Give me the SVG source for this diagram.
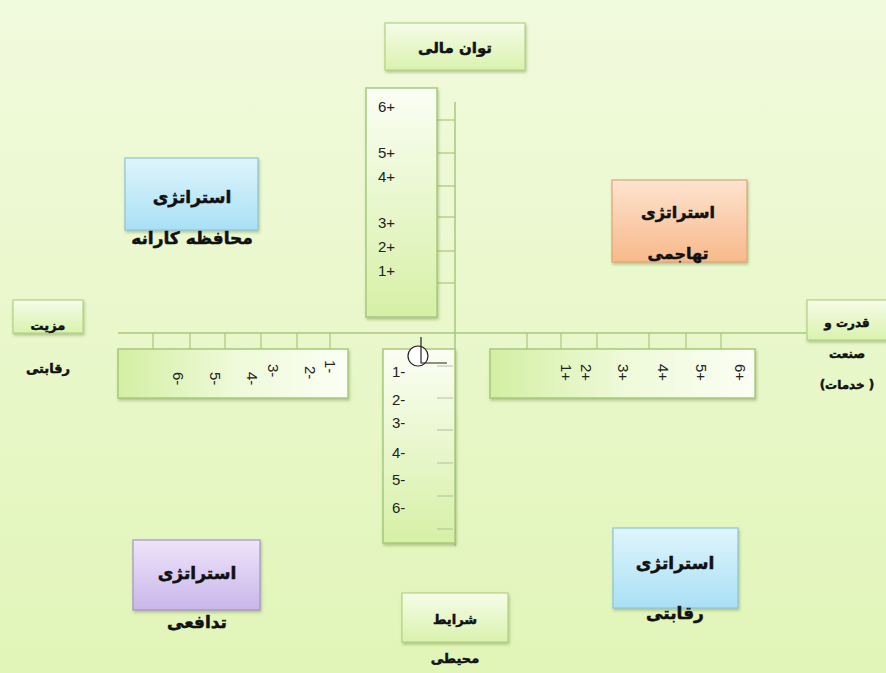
<svg xmlns="http://www.w3.org/2000/svg" width="886" height="673" viewBox="0 0 886 673">
<defs>
<linearGradient id="bg" x1="0" y1="0" x2="0" y2="1">
<stop offset="0" stop-color="#f1fadd"/><stop offset="1" stop-color="#e1f5b8"/>
</linearGradient>
<linearGradient id="gnode" x1="0" y1="0" x2="0" y2="1">
<stop offset="0" stop-color="#f6fce9"/><stop offset="1" stop-color="#d9f2ad"/>
</linearGradient>
<linearGradient id="gvert" x1="0" y1="0" x2="0" y2="1">
<stop offset="0" stop-color="#fbfef4"/><stop offset="1" stop-color="#d6f0a6"/>
</linearGradient>
<linearGradient id="ghorz" x1="0" y1="0" x2="1" y2="0">
<stop offset="0" stop-color="#d3efa3"/><stop offset="0.5" stop-color="#eefad8"/><stop offset="1" stop-color="#fbfef4"/>
</linearGradient>
<linearGradient id="gblue" x1="0" y1="0" x2="0" y2="1">
<stop offset="0" stop-color="#dff5fc"/><stop offset="1" stop-color="#a9e0f5"/>
</linearGradient>
<linearGradient id="gorange" x1="0" y1="0" x2="0" y2="1">
<stop offset="0" stop-color="#fde3cf"/><stop offset="1" stop-color="#f8b98a"/>
</linearGradient>
<linearGradient id="gpurple" x1="0" y1="0" x2="0" y2="1">
<stop offset="0" stop-color="#eee4fa"/><stop offset="1" stop-color="#c9b6ea"/>
</linearGradient>
<filter id="sh" x="-10%" y="-10%" width="120%" height="130%">
<feDropShadow dx="1" dy="2" stdDeviation="1.5" flood-color="#6a8a40" flood-opacity="0.45"/>
</filter>
</defs>
<style>
.fa{font-family:"DejaVu Sans",sans-serif;font-weight:bold;fill:#111;stroke:#111;stroke-width:0.5;text-anchor:middle;direction:rtl}
.num{font-family:"Liberation Sans",Arial,sans-serif;font-size:15px;fill:#222}
.ax{stroke:#a9c97c;stroke-width:1.5;fill:none}
.tk{stroke:#a9c97c;stroke-width:1.2;fill:none}
.nb{fill:url(#gnode);stroke:#b3d383;stroke-width:1.2}
.scale{stroke:#a9c97c;stroke-width:1.5}
</style>
<rect width="886" height="673" fill="url(#bg)"/>

<g id="connectors">
<line class="ax" x1="455" y1="102" x2="455" y2="546"/>
<line class="ax" x1="118" y1="333" x2="806" y2="333"/>
<g id="ticks-up">
<line class="tk" x1="437" y1="120" x2="455" y2="120"/>
<line class="tk" x1="437" y1="153" x2="455" y2="153"/>
<line class="tk" x1="437" y1="186" x2="455" y2="186"/>
<line class="tk" x1="437" y1="217" x2="455" y2="217"/>
<line class="tk" x1="437" y1="251" x2="455" y2="251"/>
<line class="tk" x1="437" y1="283" x2="455" y2="283"/>
</g>
<g id="ticks-left">
<line class="tk" x1="153" y1="333" x2="153" y2="349"/>
<line class="tk" x1="190" y1="333" x2="190" y2="349"/>
<line class="tk" x1="225" y1="333" x2="225" y2="349"/>
<line class="tk" x1="261" y1="333" x2="261" y2="349"/>
<line class="tk" x1="297" y1="333" x2="297" y2="349"/>
<line class="tk" x1="330" y1="333" x2="330" y2="349"/>
</g>
<g id="ticks-right">
<line class="tk" x1="527" y1="333" x2="527" y2="349"/>
<line class="tk" x1="561" y1="333" x2="561" y2="349"/>
<line class="tk" x1="597" y1="333" x2="597" y2="349"/>
<line class="tk" x1="649" y1="333" x2="649" y2="349"/>
<line class="tk" x1="686" y1="333" x2="686" y2="349"/>
<line class="tk" x1="721" y1="333" x2="721" y2="349"/>
</g>
</g>

<g id="scale-up">
<rect x="366" y="88" width="71" height="229" fill="url(#gvert)" class="scale" filter="url(#sh)"/>
<text class="num" x="378" y="112">6+</text>
<text class="num" x="378" y="158">5+</text>
<text class="num" x="378" y="182">4+</text>
<text class="num" x="378" y="228">3+</text>
<text class="num" x="378" y="252">2+</text>
<text class="num" x="378" y="276">1+</text>
</g>

<g id="scale-down">
<rect x="383" y="349" width="72" height="194" fill="url(#gvert)" class="scale" filter="url(#sh)"/>
<g stroke="#a8b898" stroke-width="1.2" opacity="0.7">
<line x1="437" y1="366" x2="453" y2="366"/>
<line x1="437" y1="398" x2="453" y2="398"/>
<line x1="437" y1="430" x2="453" y2="430"/>
<line x1="437" y1="463" x2="453" y2="463"/>
<line x1="437" y1="496" x2="453" y2="496"/>
<line x1="437" y1="529" x2="453" y2="529"/>
</g>
<text class="num" x="392" y="377" font-size="16">1-</text>
<text class="num" x="392" y="405" font-size="16">2-</text>
<text class="num" x="392" y="428" font-size="16">3-</text>
<text class="num" x="392" y="458" font-size="16">4-</text>
<text class="num" x="392" y="485" font-size="16">5-</text>
<text class="num" x="392" y="513" font-size="16">6-</text>
<circle cx="418" cy="356" r="10" fill="#fff" stroke="#222" stroke-width="1.2"/>
<path d="M421 337 V363 H447" fill="none" stroke="#222" stroke-width="1.2"/>
</g>

<g id="scale-left">
<rect x="118" y="349" width="230" height="49" fill="url(#ghorz)" class="scale" filter="url(#sh)"/>
<text class="num" transform="translate(173,372) rotate(90)">6-</text>
<text class="num" transform="translate(210,372) rotate(90)">5-</text>
<text class="num" transform="translate(247,372) rotate(90)">4-</text>
<text class="num" transform="translate(268,364) rotate(90)">3-</text>
<text class="num" transform="translate(305,366) rotate(90)">2-</text>
<text class="num" transform="translate(325,360) rotate(90)">1-</text>
</g>

<g id="scale-right">
<rect x="490" y="349" width="265" height="49" fill="url(#ghorz)" class="scale" filter="url(#sh)"/>
<text class="num" transform="translate(561,364) rotate(90)">1+</text>
<text class="num" transform="translate(581,364) rotate(90)">2+</text>
<text class="num" transform="translate(618,364) rotate(90)">3+</text>
<text class="num" transform="translate(658,364) rotate(90)">4+</text>
<text class="num" transform="translate(696,364) rotate(90)">5+</text>
<text class="num" transform="translate(735,364) rotate(90)">6+</text>
</g>

<g id="node-top">
<rect class="nb" x="385" y="23" width="140" height="47" filter="url(#sh)"/>
<text class="fa" x="455" y="53" font-size="15">توان مالی</text>
</g>

<g id="node-left">
<rect class="nb" x="13" y="300" width="70" height="33" filter="url(#sh)"/>
<text class="fa" x="48" y="330" font-size="13">مزیت</text>
<text class="fa" x="48" y="373" font-size="13">رقابتی</text>
</g>

<g id="node-right">
<rect class="nb" x="807" y="300" width="85" height="40" filter="url(#sh)"/>
<text class="fa" x="847" y="327" font-size="12">قدرت و</text>
<text class="fa" x="847" y="358" font-size="12">صنعت</text>
<text class="fa" x="847" y="389" font-size="12">( خدمات)</text>
</g>

<g id="node-bottom">
<rect class="nb" x="402" y="593" width="106" height="49" filter="url(#sh)"/>
<text class="fa" x="455" y="624" font-size="13">شرایط</text>
<text class="fa" x="455" y="663" font-size="13">محیطی</text>
</g>

<g id="node-conservative">
<rect x="125" y="158" width="133" height="72" fill="url(#gblue)" stroke="#8ec3da" stroke-width="1.2" filter="url(#sh)"/>
<text class="fa" x="192" y="203" font-size="17">استراتژی</text>
<text class="fa" x="192" y="244" font-size="17">محافظه کارانه</text>
</g>

<g id="node-aggressive">
<rect x="612" y="180" width="135" height="82" fill="url(#gorange)" stroke="#e0a577" stroke-width="1.2" filter="url(#sh)"/>
<text class="fa" x="678" y="218" font-size="16">استراتژی</text>
<text class="fa" x="678" y="259" font-size="16">تهاجمی</text>
</g>

<g id="node-defensive">
<rect x="133" y="540" width="127" height="70" fill="url(#gpurple)" stroke="#a993c9" stroke-width="1.2" filter="url(#sh)"/>
<text class="fa" x="197" y="579" font-size="17">استراتژی</text>
<text class="fa" x="197" y="628" font-size="17">تدافعی</text>
</g>

<g id="node-competitive">
<rect x="613" y="528" width="125" height="80" fill="url(#gblue)" stroke="#8ec3da" stroke-width="1.2" filter="url(#sh)"/>
<text class="fa" x="675" y="569" font-size="17">استراتژی</text>
<text class="fa" x="675" y="619" font-size="17">رقابتی</text>
</g>
</svg>
